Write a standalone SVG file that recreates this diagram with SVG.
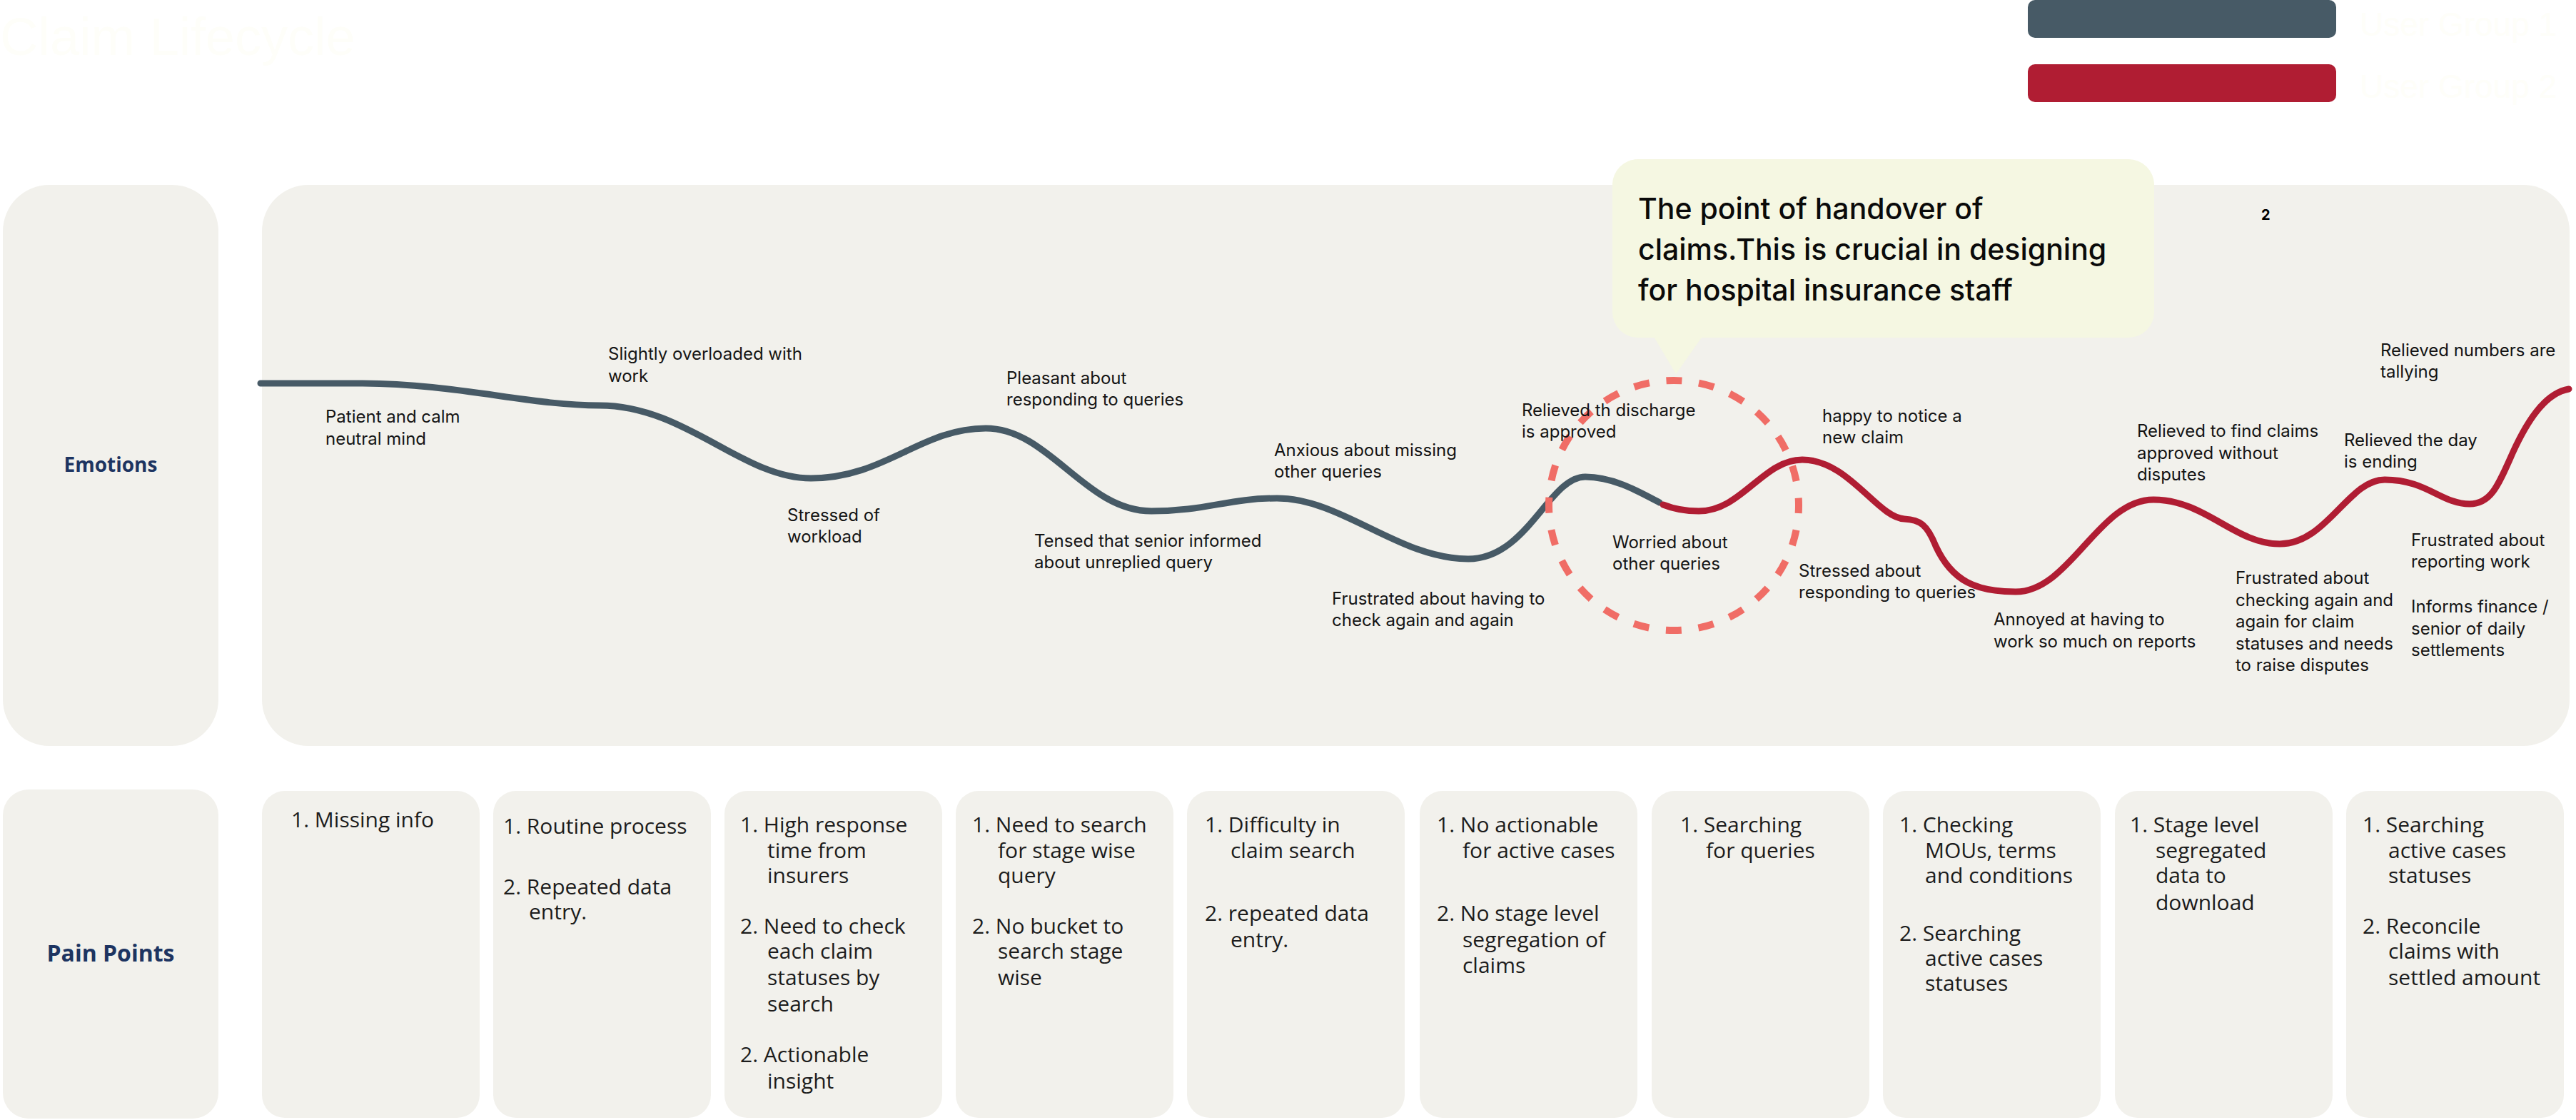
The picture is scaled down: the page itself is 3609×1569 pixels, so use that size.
<svg xmlns="http://www.w3.org/2000/svg" width="3609" height="1569" viewBox="0 0 3609 1569">
<style>
.panel{fill:#f2f1ec}
.lbl{font-family:"Open Sans","Liberation Sans",sans-serif;font-weight:700;fill:#1d3461;text-anchor:middle}
.emo{font-family:Inter,"Liberation Sans",sans-serif;font-size:24px;fill:#141414}
.pp{font-family:"Open Sans","Liberation Sans",sans-serif;font-size:30px;fill:#1c1c1c}
.faint{font-family:"Liberation Sans",Arial,sans-serif;fill:#fefef9}
.c1{fill:none;stroke:#475a66;stroke-width:9;stroke-linecap:round;stroke-linejoin:round}
.c2{fill:none;stroke:#b01d33;stroke-width:9;stroke-linecap:round;stroke-linejoin:round}
</style>
<rect width="3609" height="1569" fill="#ffffff"/>
<g id="title"><text class="faint" x="0" y="77" font-size="74">Claim Lifecycle</text></g>
<g id="legend">
<rect x="2841" y="0" width="432" height="53" rx="10" fill="#475a66"/>
<rect x="2841" y="90" width="432" height="53" rx="10" fill="#b01d33"/>
<text class="faint" x="3306" y="50" font-size="46">User Group 1</text>
<text class="faint" x="3306" y="137" font-size="46">User Group 2</text>
</g>
<g id="emotions-label">
<rect class="panel" x="4" y="259" width="302" height="786" rx="65"/>
<text class="lbl" x="155" y="661" font-size="28">Emotions</text>
</g>
<g id="emotions-panel">
<rect class="panel" x="367" y="259" width="3233" height="786" rx="65"/>
<text x="3168" y="308" font-family="Inter,'Liberation Sans',sans-serif" font-weight="700" font-size="20" fill="#000">2</text>
</g>
<g id="connectors">
<path class="c1" d="M365,537 H500 C640,537 740,568 840,568 C960,568 1040,670 1136,670 C1240,670 1290,600 1381,600 C1470,600 1520,716 1613,716 C1690,716 1720,698 1789,698 C1880,698 1960,783 2057,783 C2140,783 2170,668 2221,668 C2260,668 2295,688 2325,704"/>
<path class="c2" d="M2330,707 C2345,713 2362,716 2380,716 C2440,716 2470,644 2525,644 C2590,644 2630,725 2668,727 C2690,728 2700,735 2712,765 C2735,815 2770,829 2824,829 C2900,829 2940,700 3017,700 C3090,700 3130,762 3194,762 C3260,762 3290,672 3341,672 C3400,672 3420,706 3460,706 C3490,706 3500,680 3520,635 C3545,580 3570,550 3599,545"/>
</g>
<g id="handover-circle">
<circle cx="2345" cy="708" r="175" fill="none" stroke="#f06d66" stroke-width="10" stroke-dasharray="22 23.82" stroke-dashoffset="11"/>
</g>
<g id="callout">
<rect x="2259" y="223" width="759" height="250" rx="36" fill="#f5f7e2"/>
<polygon points="2316,470 2386,470 2348,524" fill="#f5f7e2"/>
<text font-family="Inter,'Liberation Sans',sans-serif" font-size="41" font-weight="500" fill="#0a0a0a">
<tspan x="2295" y="307">The point of handover of</tspan>
<tspan x="2295" y="364">claims.This is crucial in designing</tspan>
<tspan x="2295" y="421">for hospital insurance staff</tspan>
</text>
</g>
<g id="emotion-labels" class="emo">
<text x="456" y="592">Patient and calm<tspan x="456" dy="31">neutral mind</tspan></text>
<text x="852" y="504">Slightly overloaded with<tspan x="852" dy="31">work</tspan></text>
<text x="1103" y="730">Stressed of<tspan x="1103" dy="30">workload</tspan></text>
<text x="1410" y="538">Pleasant about<tspan x="1410" dy="30">responding to queries</tspan></text>
<text x="1449" y="766">Tensed that senior informed<tspan x="1449" dy="30">about unreplied query</tspan></text>
<text x="1785" y="639">Anxious about missing<tspan x="1785" dy="30">other queries</tspan></text>
<text x="1866" y="847">Frustrated about having to<tspan x="1866" dy="30">check again and again</tspan></text>
<text x="2132" y="583">Relieved th discharge<tspan x="2132" dy="30">is approved</tspan></text>
<text x="2259" y="768">Worried about<tspan x="2259" dy="30">other queries</tspan></text>
<text x="2553" y="591">happy to notice a<tspan x="2553" dy="30">new claim</tspan></text>
<text x="2520" y="808">Stressed about<tspan x="2520" dy="30">responding to queries</tspan></text>
<text x="2793" y="876">Annoyed at having to<tspan x="2793" dy="31">work so much on reports</tspan></text>
<text x="2994" y="612">Relieved to find claims<tspan x="2994" dy="30.5">approved without</tspan><tspan x="2994" dy="30.5">disputes</tspan></text>
<text x="3132" y="818">Frustrated about<tspan x="3132" dy="30.5">checking again and</tspan><tspan x="3132" dy="30.5">again for claim</tspan><tspan x="3132" dy="30.5">statuses and needs</tspan><tspan x="3132" dy="30.5">to raise disputes</tspan></text>
<text x="3284" y="625">Relieved the day<tspan x="3284" dy="30">is ending</tspan></text>
<text x="3335" y="499">Relieved numbers are<tspan x="3335" dy="30">tallying</tspan></text>
<text x="3378" y="765">Frustrated about<tspan x="3378" dy="30">reporting work</tspan></text>
<text x="3378" y="858">Informs finance /<tspan x="3378" dy="30.5">senior of daily</tspan><tspan x="3378" dy="30.5">settlements</tspan></text>
</g>
<g id="pain-label">
<rect class="panel" x="4" y="1106" width="302" height="461" rx="36"/>
<text class="lbl" x="155" y="1347" font-size="32">Pain Points</text>
</g>
<g id="pain-1" class="pp">
<rect class="panel" x="367" y="1108" width="305" height="458" rx="32"/>
<text x="408" y="1159">1. Missing info</text>
</g>
<g id="pain-2" class="pp">
<rect class="panel" x="691" y="1108" width="305" height="458" rx="32"/>
<text x="705" y="1168">1. Routine process</text>
<text x="705" y="1253">2.  Repeated data</text>
<text x="741" y="1288">entry.</text>
</g>
<g id="pain-3" class="pp">
<rect class="panel" x="1015" y="1108" width="305" height="458" rx="32"/>
<text x="1037" y="1166">1. High response</text>
<text x="1075" y="1202">time from</text>
<text x="1075" y="1237">insurers</text>
<text x="1037" y="1308">2. Need to check</text>
<text x="1075" y="1343">each claim</text>
<text x="1075" y="1380">statuses by</text>
<text x="1075" y="1417">search</text>
<text x="1037" y="1488">2. Actionable</text>
<text x="1075" y="1525">insight</text>
</g>
<g id="pain-4" class="pp">
<rect class="panel" x="1339" y="1108" width="305" height="458" rx="32"/>
<text x="1362" y="1166">1. Need to search</text>
<text x="1398" y="1202">for stage wise</text>
<text x="1398" y="1237">query</text>
<text x="1362" y="1308">2. No bucket to</text>
<text x="1398" y="1343">search stage</text>
<text x="1398" y="1380">wise</text>
</g>
<g id="pain-5" class="pp">
<rect class="panel" x="1663" y="1108" width="305" height="458" rx="32"/>
<text x="1688" y="1166">1. Difficulty in</text>
<text x="1724" y="1202">claim search</text>
<text x="1688" y="1290">2.  repeated data</text>
<text x="1724" y="1327">entry.</text>
</g>
<g id="pain-6" class="pp">
<rect class="panel" x="1989" y="1108" width="305" height="458" rx="32"/>
<text x="2013" y="1166">1. No actionable</text>
<text x="2049" y="1202">for active cases</text>
<text x="2013" y="1290">2. No stage level</text>
<text x="2049" y="1327">segregation of</text>
<text x="2049" y="1363">claims</text>
</g>
<g id="pain-7" class="pp">
<rect class="panel" x="2314" y="1108" width="305" height="458" rx="32"/>
<text x="2354" y="1166">1. Searching</text>
<text x="2390" y="1202">for queries</text>
</g>
<g id="pain-8" class="pp">
<rect class="panel" x="2638" y="1108" width="305" height="458" rx="32"/>
<text x="2661" y="1166">1. Checking</text>
<text x="2697" y="1202">MOUs, terms</text>
<text x="2697" y="1237">and conditions</text>
<text x="2661" y="1318">2. Searching</text>
<text x="2697" y="1353">active cases</text>
<text x="2697" y="1388">statuses</text>
</g>
<g id="pain-9" class="pp">
<rect class="panel" x="2963" y="1108" width="305" height="458" rx="32"/>
<text x="2984" y="1166">1. Stage level</text>
<text x="3020" y="1202">segregated</text>
<text x="3020" y="1237">data to</text>
<text x="3020" y="1275">download</text>
</g>
<g id="pain-10" class="pp">
<rect class="panel" x="3287" y="1108" width="305" height="458" rx="32"/>
<text x="3310" y="1166">1. Searching</text>
<text x="3346" y="1202">active cases</text>
<text x="3346" y="1237">statuses</text>
<text x="3310" y="1308">2. Reconcile</text>
<text x="3346" y="1343">claims with</text>
<text x="3346" y="1380">settled amount</text>
</g>
</svg>
